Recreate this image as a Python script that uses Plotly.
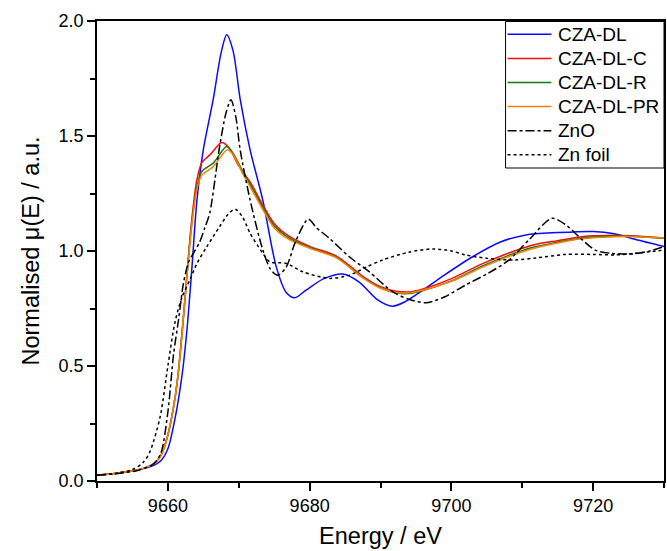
import plotly.graph_objects as go

# ---- data ----
E_dl = [9650, 9653, 9656, 9658, 9659, 9660, 9661, 9662, 9662.7, 9663.4, 9664.1, 9665, 9666.4,
        9667.5, 9668.3, 9669.2, 9670.2, 9671.6, 9673.4, 9675.3, 9676.7, 9677.9, 9679.5, 9682,
        9684.7, 9687, 9689.5, 9691.7, 9693.5, 9696, 9699, 9703, 9707, 9710.5, 9715, 9720,
        9723, 9726, 9730]
mu_dl = [0.025, 0.035, 0.05, 0.068, 0.088, 0.14, 0.27, 0.46, 0.66, 0.93, 1.22, 1.44, 1.66,
         1.86, 1.94, 1.87, 1.66, 1.44, 1.22, 0.93, 0.82, 0.797, 0.83, 0.88,
         0.90, 0.865, 0.79, 0.76, 0.78, 0.83, 0.895, 0.975, 1.04, 1.07, 1.08, 1.085,
         1.075, 1.05, 1.02]

E_c = [9650, 9653, 9656, 9658, 9659, 9660, 9661, 9661.5, 9662.3, 9663.1, 9663.6, 9664.1,
       9664.8, 9666, 9667.6, 9668.6, 9670, 9671.6, 9673.4, 9675, 9677.2, 9680, 9683.8,
       9687.5, 9690, 9692.2, 9694, 9696, 9700, 9704.4, 9708, 9711.4, 9715, 9718.4, 9723,
       9726, 9730]
mu_c = [0.025, 0.035, 0.05, 0.075, 0.11, 0.2, 0.36, 0.48, 0.75, 1.05, 1.2, 1.31,
        1.385, 1.42, 1.472, 1.45, 1.37, 1.30, 1.2, 1.12, 1.062, 1.02, 0.978,
        0.89, 0.845, 0.825, 0.822, 0.835, 0.88, 0.945, 0.99, 1.025, 1.045, 1.062, 1.068,
        1.065, 1.057]

E_r = [9650, 9653, 9656, 9658, 9659, 9660, 9661, 9661.5, 9662.3, 9663.1, 9663.6, 9664.1,
       9664.8, 9666.4, 9668.3, 9669.3, 9670.5, 9671.6, 9673.4, 9675, 9677.2, 9680, 9683.8,
       9687.5, 9690, 9692.2, 9694, 9696, 9700, 9704.4, 9708, 9711.4, 9715, 9718.4, 9723,
       9726, 9730]
mu_r = [0.025, 0.035, 0.05, 0.075, 0.11, 0.2, 0.36, 0.48, 0.75, 1.04, 1.18, 1.28,
        1.346, 1.382, 1.454, 1.42, 1.35, 1.29, 1.19, 1.11, 1.055, 1.015, 0.972,
        0.885, 0.84, 0.818, 0.815, 0.828, 0.87, 0.935, 0.98, 1.015, 1.038, 1.057, 1.065,
        1.063, 1.055]

E_pr = [9650, 9653, 9656, 9658, 9659, 9660, 9661, 9661.5, 9662.3, 9663.1, 9663.6, 9664.1,
        9664.8, 9666.4, 9668.4, 9669.4, 9670.5, 9671.6, 9673.4, 9675, 9677.2, 9680, 9683.8,
        9687.5, 9690, 9692.2, 9694, 9696, 9700, 9704.4, 9708, 9711.4, 9715, 9718.4, 9723,
        9726, 9730]
mu_pr = [0.025, 0.035, 0.05, 0.075, 0.11, 0.2, 0.36, 0.48, 0.75, 1.03, 1.17, 1.27,
         1.33, 1.367, 1.44, 1.41, 1.34, 1.28, 1.18, 1.10, 1.048, 1.012, 0.97,
         0.883, 0.838, 0.82, 0.818, 0.83, 0.868, 0.93, 0.975, 1.01, 1.035, 1.053, 1.062,
         1.062, 1.056]

E_zno = [9650, 9653, 9656, 9658, 9659, 9660, 9660.8, 9661.5, 9662.2, 9662.9, 9663.6, 9664.5,
         9665.2, 9665.9, 9667.3, 9668.2, 9668.9, 9669.6, 9670.2, 9671.6, 9673.4, 9674.5,
         9675.5, 9676.7, 9678, 9679.8, 9681, 9682.8, 9685.6, 9688.4, 9691.7, 9694, 9696.4,
         9699, 9702, 9705, 9708.1, 9711, 9714.2, 9716.3, 9718, 9720.3, 9722.5, 9725.5,
         9728, 9730]
mu_zno = [0.025, 0.033, 0.048, 0.075, 0.12, 0.3, 0.55, 0.70, 0.86, 0.95, 0.99, 1.04,
          1.1, 1.164, 1.454, 1.6, 1.658, 1.58, 1.44, 1.222, 1.004, 0.92,
          0.895, 0.93, 1.04, 1.138, 1.1, 1.055, 0.975, 0.91, 0.823, 0.79, 0.775,
          0.8, 0.852, 0.9, 0.96, 1.05, 1.142, 1.11, 1.062, 1.004, 0.99, 0.987,
          1.0, 1.019]

E_zn = [9650, 9653, 9655, 9656.5, 9657.5, 9658.9, 9660, 9661, 9662, 9663.1, 9664.1, 9665.5,
        9667.3, 9668.5, 9669.5, 9670.5, 9671.6, 9673.4, 9674.4, 9676.7, 9679, 9682.8,
        9685.6, 9688, 9690.3, 9694, 9697.4, 9700, 9702, 9705, 9709, 9712, 9716.1, 9720,
        9723.1, 9726, 9730]
mu_zn = [0.025, 0.035, 0.05, 0.08, 0.13, 0.278, 0.5, 0.69, 0.8, 0.874, 0.946, 1.019,
         1.106, 1.16, 1.182, 1.15, 1.077, 0.99, 0.953, 0.946, 0.91, 0.881,
         0.895, 0.93, 0.961, 0.995, 1.009, 1.0, 0.983, 0.968, 0.961, 0.97, 0.985, 0.985,
         0.983, 0.99, 1.004]

series = [
    ("CZA-DL", E_dl, mu_dl, "#0a0aff", "solid"),
    ("CZA-DL-C", E_c, mu_c, "#ff0a0a", "solid"),
    ("CZA-DL-R", E_r, mu_r, "#127a12", "solid"),
    ("CZA-DL-PR", E_pr, mu_pr, "#ff7f00", "solid"),
    ("ZnO", E_zno, mu_zno, "#000000", "dashdot"),
    ("Zn foil", E_zn, mu_zn, "#000000", "dot"),
]

FONT = "Arial, Liberation Sans, sans-serif"
W, H = 667, 551
ML, MR, MT, MB = 97, 1, 21, 70
PW, PH = W - ML - MR, H - MT - MB


def px(xp):
    return (xp - ML) / PW


def py(yp):
    return (H - MB - yp) / PH


fig = go.Figure()
for name, x, y, col, dash in series:
    fig.add_trace(go.Scatter(x=x, y=y, name=name, mode="lines", showlegend=False,
                             line=dict(color=col, width=1.5, dash=dash,
                                       shape="spline", smoothing=0.8)))

# legend box drawn in the style of the original (boxed, top-right, tight rows)
shapes = [dict(type="rect", xref="paper", yref="paper", layer="above",
               x0=px(507), x1=px(666), y0=py(168), y1=py(21.5),
               fillcolor="white", line=dict(color="black", width=1))]
annotations = []
row0, rowgap = 34.3, 24.1
for i, (name, _, _, col, dash) in enumerate(series):
    yc = py(row0 + i * rowgap)
    shapes.append(dict(type="line", xref="paper", yref="paper", layer="above",
                       x0=px(509), x1=px(553), y0=yc, y1=yc,
                       line=dict(color=col, width=1.5, dash=dash)))
    annotations.append(dict(xref="paper", yref="paper", x=px(558), y=yc,
                            xanchor="left", yanchor="middle", showarrow=False,
                            text=name, font=dict(family=FONT, size=19, color="black")))

fig.update_layout(
    width=W, height=H,
    margin=dict(l=ML, r=MR, t=MT, b=MB),
    paper_bgcolor="white", plot_bgcolor="white",
    font=dict(family=FONT, color="black", size=18),
    showlegend=False,
    shapes=shapes, annotations=annotations,
    xaxis=dict(range=[9650, 9730], tick0=9660, dtick=20,
               showgrid=False, zeroline=False,
               showline=True, linecolor="black", linewidth=1.5, mirror=True,
               ticks="outside", ticklen=8, tickwidth=1.5, tickcolor="black",
               tickfont=dict(size=18),
               minor=dict(ticks="outside", ticklen=5, tickwidth=1.5, tickcolor="black",
                          dtick=10, tick0=9650, showgrid=False),
               title=dict(text="Energy / eV", font=dict(size=23.5), standoff=12)),
    yaxis=dict(range=[0, 2.0], dtick=0.5, tickformat=".1f",
               showgrid=False, zeroline=False,
               showline=True, linecolor="black", linewidth=1.5, mirror=True,
               ticks="outside", ticklen=8, tickwidth=1.5, tickcolor="black",
               tickfont=dict(size=18),
               minor=dict(ticks="outside", ticklen=5, tickwidth=1.5, tickcolor="black",
                          dtick=0.25, showgrid=False),
               title=dict(text="Normalised \u03bc(E) / a.u.", font=dict(size=23.5), standoff=12)),
)

fig.write_html("out.html")
